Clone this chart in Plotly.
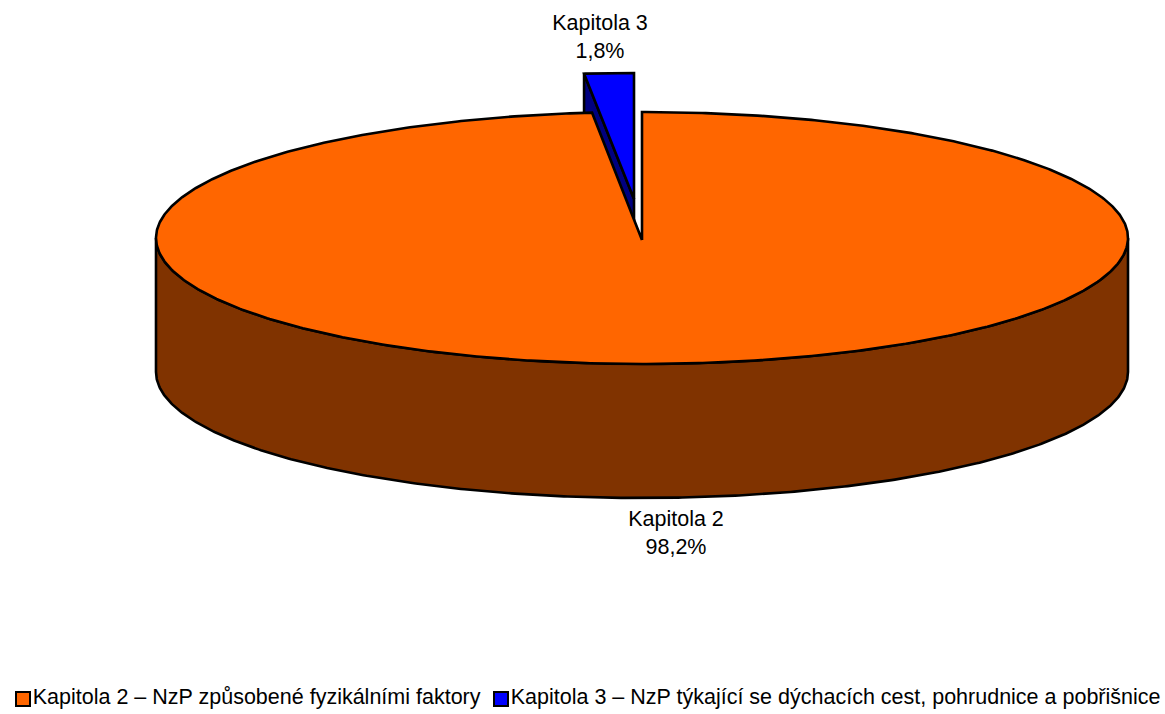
import numpy as np
import plotly.graph_objects as go

# Data
categories = ["Kapitola 2", "Kapitola 3"]
legend_labels = ["Kapitola 2 – NzP způsobené fyzikálními faktory",
                 "Kapitola 3 – NzP týkající se dýchacích cest, pohrudnice a pobřišnice"]
shares = [98.2, 1.8]

# Styles / geometry of the pseudo-3D pie
TOP_COLORS = ["#FF6600", "#0000FF"]
SIDE_COLORS = ["#803300", "#000080"]
CX, CY, RX, RY, DEPTH = 642, 238, 486, 126, 134
APEX_DY = 2
EXPLODE_DX, EXPLODE_DY = -8, -39
VIEW_K = 0.91  # foreshortening of the small slice's sweep in the tilted view
W, H = 1165, 714
FONT = "Liberation Sans, Arial, sans-serif"
FS = 21.5

small_sweep = shares[1] / sum(shares) * 2 * np.pi * VIEW_K


def arc(t0, t1, cx=CX, cy=CY, n=400):
    t = np.linspace(t0, t1, n)
    return cx + RX * np.sin(t), cy - RY * np.cos(t)


fig = go.Figure()


def poly(x, y, color, lw=2.6):
    fig.add_trace(go.Scatter(x=list(x), y=list(y), mode="lines", fill="toself", fillcolor=color,
                             line=dict(color="black", width=lw), hoverinfo="skip", showlegend=False))


# Exploded small slice: side face first, then top
cx3, cy3 = CX + EXPLODE_DX, CY + EXPLODE_DY
ax, ay = arc(-small_sweep, 0, cx3, cy3, 40)
poly([ax[0], cx3, cx3, ax[0], ax[0]], [ay[0], cy3, cy3 + DEPTH, ay[0] + DEPTH, ay[0]], SIDE_COLORS[1])
poly(np.r_[cx3, ax, cx3], np.r_[cy3, ay, cy3], TOP_COLORS[1])

# Main slice: outer wall, then top
fx, fy = arc(np.pi / 2, 3 * np.pi / 2)
poly(np.r_[fx, fx[::-1], fx[0]], np.r_[fy, fy[::-1] + DEPTH, fy[0]], SIDE_COLORS[0])
tx, ty = arc(0, 2 * np.pi - small_sweep, n=800)
poly(np.r_[CX, tx, CX], np.r_[CY + APEX_DY, ty, CY + APEX_DY], TOP_COLORS[0])


def fmt(v):
    return f"{v:.1f}".replace(".", ",")


# Data labels
fig.add_trace(go.Scatter(x=[676, 600], y=[535, 39], mode="text",
                         text=[f"{c}<br>{fmt(v)}%" for c, v in zip(categories, shares)],
                         textposition="middle center",
                         textfont=dict(family=FONT, size=FS, color="black"),
                         hoverinfo="skip", showlegend=False))

# Legend row
fig.add_trace(go.Scatter(x=[23, 501], y=[699, 699], mode="markers+text",
                         marker=dict(symbol="square", size=14, color=TOP_COLORS,
                                     line=dict(color="black", width=2)),
                         text=legend_labels, textposition="middle right",
                         textfont=dict(family=FONT, size=FS, color="black"),
                         hoverinfo="skip", showlegend=False))

fig.update_layout(width=W, height=H, margin=dict(l=0, r=0, t=0, b=0),
                  paper_bgcolor="white", plot_bgcolor="white", showlegend=False,
                  xaxis=dict(range=[0, W], visible=False, fixedrange=True),
                  yaxis=dict(range=[H, 0], visible=False, fixedrange=True))

fig.write_html("out.html", config={"displayModeBar": False},
               post_script="document.body.style.margin='0';document.body.style.overflow='hidden';")
